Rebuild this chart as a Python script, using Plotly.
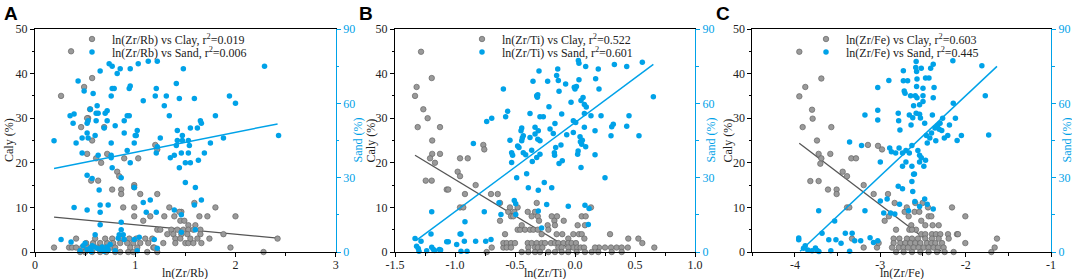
import plotly.graph_objects as go

# ---------------- DATA ----------------
# Panel A : ln(Zr/Rb)
A_clay_x = [0.36,0.26,0.57,0.49,0.55,0.53,0.52,0.46,0.69,0.57,0.52,0.72,1.20,1.22,0.61,0.66,0.89,1.03,0.82,0.84,
            0.56,0.63,0.99,0.99,0.77,0.86,0.86,1.05,1.22,0.88,0.99,1.34,1.80,0.99,1.08,1.15,1.29,1.39,1.46,1.44,
            1.59,1.64,1.72,2.00,1.45,1.49,1.53,1.60,1.22,1.25,1.36,1.42,1.48,1.53,1.58,1.65,1.38,1.46,1.52,1.65,
            1.74,1.88,2.42,0.41,0.77,0.85,0.94,1.01,1.10,1.17,1.40,1.45,1.28,1.40,1.50,1.53,1.58,1.66,0.51,0.58,
            0.65,0.72,0.78,0.85,0.92,0.98,1.05,1.13,0.19,0.34,0.37,0.41,0.47,0.53,0.62,0.69,0.76,0.80,0.95,1.02,
            1.18,1.19,1.95,2.28,0.45,0.50,0.57,0.65,0.71,0.80,0.85,0.93,0.98,1.12,1.22,0.60,0.70,1.32,1.55,1.62]
A_clay_y = [45,35,39,37,32,30,30,28,28,25,22,22,24,23,21,20,21,21,18,17,
            16,16,15,14.5,14,14,13,13,13,10,10,10,10,8,7,8,8,8,9,9,
            11,8,8,8,7,7,6,6,5,5,5,5,5,5,5,5,4,4,4,4,
            3,4,3,3,3,3,3,3,3,3,3,3,2,2,2,2,2,2,2,2,
            2,2,2,2,2,2,2,2,1,1,1,1,1,1,1,1,1,1,1,1,
            1,1,1,0,0,0,0,0,0,0,0,0,0,0,0,3,3,4,3,3]
A_sand_x = [0.19,0.26,0.36,0.35,0.39,0.38,0.39,0.41,0.43,0.47,0.47,0.49,0.52,0.52,0.52,0.52,0.53,0.53,0.55,0.57,
            0.58,0.60,0.61,0.61,0.62,0.63,0.63,0.64,0.65,0.65,0.65,0.65,0.60,0.69,0.70,0.72,0.72,0.73,0.74,0.76,
            0.76,0.76,0.76,0.77,0.77,0.79,0.77,0.80,0.82,0.85,0.86,0.86,0.89,0.89,0.92,0.92,0.94,0.94,0.95,0.95,
            0.95,0.99,1.00,1.01,1.02,1.03,0.99,1.08,1.08,1.11,1.13,1.15,1.21,1.20,1.21,1.22,1.22,1.25,1.29,1.31,
            1.34,1.35,1.39,1.41,1.41,1.42,1.42,1.44,1.44,1.46,1.47,1.47,1.48,1.50,1.50,1.53,1.53,1.54,1.55,1.55,
            1.59,1.60,1.62,1.63,1.65,1.66,1.69,1.75,1.80,1.88,1.94,2.00,2.29,2.43,1.39,1.46,1.59,1.66,0.84,0.86,
            0.88,1.60,1.21,1.46,0.45,0.48,0.50,0.52,0.55,0.57,0.59,0.62,0.65,0.67,0.70,0.72,0.75,0.80,0.83,0.89,
            0.99,1.02,1.04,1.19,1.22,0.69,0.73,0.56]
A_sand_y = [44.9,5,4,55,55.7,52,18,44,69,46,40,65,52,48,31,17,53,46,57.6,29.7,
            64,47,53,56,59,56,39,25,19,16,11,73,7,50,56,57,53,19,76,63,
            44,39,38,75,66,66,34,51,72,74,30,12,48,53,41,55,55,66,67,74,
            36,44,47,47,49,76,26,20,61,16,77,21,40,63,66,77,42.5,46,59,63,
            55,38,39,68,43,45,49,62,34,40,47,45,74,36,28,40,45,43,50,36,
            62,26,50,37,53,52,40,44,55,46,63,60,75,47,17,15,19,21,7,9,
            7,9,16,8,0.5,2.5,3.5,1,1.5,2.5,2,1.5,1,2,1,2,3,0.5,5.5,5,
            5,0.5,6,5,1.5,0.3,0.8,0.2]
A_clay_fit_x = [0.19, 2.42]
A_clay_fit_y = [7.8, 3.1]
A_sand_fit_x = [0.19, 2.42]
A_sand_fit_y = [33.7, 51.7]

# Panel B : ln(Zr/Ti)
B_clay_x = [-1.283,-1.32,-1.333,-1.194,-1.264,-1.228,-1.311,-1.125,-1.19,-1.19,-1.125,-1.208,-1.167,-0.958,-0.894,-0.764,-0.756,-0.978,-0.958,-1.244,
            -1.194,-1.069,-1.056,-0.828,-0.917,-0.70,-0.644,-0.958,-0.931,-0.625,-0.556,-0.542,-0.478,-0.506,-0.625,-0.533,-0.514,-0.394,-0.361,-0.319,
            -0.333,-0.31,-0.30,-0.228,-0.194,-0.172,-0.167,-0.15,-0.094,0.022,0.056,0.089,0.133,0.083,-0.583,-0.597,-0.478,-0.456,-0.417,-0.444,
            -0.375,-0.347,-0.31,-0.278,-0.222,-0.153,-0.106,-0.056,-0.014,0.033,0.056,0.078,0.292,0.444,0.528,0.561,0.661,0.30,0.347,0.389,
            0.25,0.20,0.167,-0.597,-0.569,-0.533,-0.50,-0.394,-0.361,-0.319,-0.278,-0.25,-0.20,-0.167,-0.139,-0.097,-0.056,-0.028,0.008,-0.014,
            0.019,0.047,0.075,-0.569,-0.533,-0.389,-0.333,-0.31,-0.272,-0.139,-0.111,-0.056,-0.694,-0.736,-0.444,-0.389,-0.333,-0.292,-0.222,-0.167,
            -0.111,-0.056,0.014,0.083,0.139,0.194,0.306,0.389,0.44]
B_clay_y = [44.9,37,35,39,32,30,28,28,25,22,22,21,20,21,21,24,23,18,17,16,
            16,14,14,15,13,13,13,10,10,11,9,10,10,9,7,8,8,9,8,11,
            9,8,7,6,8,7,6,8,7,6,8,8,10,6,4,1,5,5,5,6,
            5,5,5,4,5,4,4,3,4,4,4,3,4,3,3,2,1,1,1,1,
            1,1,1,2,2,2,2,2,2,2,2,2,2,2,2,2,2,2,2,1,
            1,1,1,1,1,1,1,1,1,1,1,1,1,0,0,0,0,0,0,0,
            0,0,0,0,0,0,0,0,1]
B_sand_x = [-1.333,-1.32,-1.306,-1.30,-1.283,-1.236,-1.20,-1.194,-1.194,-1.18,-1.17,-1.13,-1.12,-1.069,-1.056,-0.986,-0.958,-0.95,-0.95,-0.922,
            -0.917,-0.90,-0.847,-0.828,-0.756,-0.744,-0.736,-0.694,-0.70,-0.633,-0.617,-0.597,-0.578,-0.561,-0.542,-0.528,-0.528,-0.52,-0.506,-0.494,
            -0.494,-0.486,-0.478,-0.467,-0.45,-0.444,-0.444,-0.439,-0.431,-0.431,-0.411,-0.403,-0.389,-0.375,-0.375,-0.361,-0.356,-0.35,-0.333,-0.333,
            -0.319,-0.314,-0.31,-0.319,-0.31,-0.306,-0.306,-0.306,-0.30,-0.292,-0.292,-0.292,-0.278,-0.264,-0.256,-0.236,-0.228,-0.217,-0.208,-0.194,
            -0.181,-0.172,-0.17,-0.167,-0.161,-0.153,-0.144,-0.139,-0.133,-0.133,-0.117,-0.111,-0.106,-0.078,-0.069,-0.056,-0.033,-0.014,-0.014,-0.006,
            0.0,0.006,0.012,0.022,0.026,0.028,0.033,0.033,0.042,0.045,0.05,0.05,0.056,0.061,0.067,0.078,0.078,0.078,0.083,0.089,
            0.089,0.094,0.111,0.117,0.133,0.167,0.167,0.172,0.194,0.2,0.217,0.25,0.3,0.306,0.319,0.328,0.431,0.431,0.45,0.533,
            0.561,0.653]
B_sand_y = [5.4,2.3,1.4,0.3,4.3,0.5,7.3,16.2,1.9,1,0.6,1,0.8,4.1,4.1,3,7.3,7.3,0.3,4.3,
            12.2,0.3,43.8,4.3,16.2,4.3,52.7,54,5,19.9,15.1,65.8,54.6,56.8,45.1,40.1,36.1,39,20.8,15.1,
            19.5,30,42.8,42.2,48.9,50,44.9,46,46.9,40.1,39.2,31.6,25.9,55.9,46.2,41.1,36.5,68.9,50.3,47.6,
            63.1,62.5,63.5,38.1,45.5,48.9,24.9,16.5,73,54.6,44.9,39.5,9.7,54.6,28,19.2,68.9,58.6,49.6,25.9,
            47.8,40.1,39,51.9,42.2,71.2,73.9,69.2,64.9,35.7,43.2,55.7,36.8,67.8,47.3,18.5,60.4,48.2,53,66.5,
            65.8,52.3,66.8,39.5,40.8,77.3,76.2,69.5,46.5,44.5,61.1,34.1,43.5,45.1,62.4,59.5,55.9,50.3,18.9,74.9,
            42.5,58.5,11.1,17.6,55,48.9,39.2,69.9,73.9,65.8,55,30,46.9,50.5,51.6,75.7,74.9,50.8,55,46.9,
            76.6,62.7]
B_clay_fit_x = [-1.333, -0.03]
B_clay_fit_y = [21.7, 0.5]
B_sand_fit_x = [-1.325, 0.653]
B_sand_fit_y = [4.6, 75.7]

# Panel C : ln(Zr/Fe)
C_clay_x = [-3.949,-3.949,-3.879,-3.91,-3.80,-3.793,-3.691,-3.742,-3.723,-3.691,-3.703,-3.586,-3.574,-3.027,-3.145,-2.98,-3.34,-3.285,-3.82,-3.723,
            -3.613,-3.512,-3.512,-3.441,-3.39,-3.195,-3.078,-2.91,-3.39,-3.363,-2.832,-2.949,-2.90,-2.816,-2.844,-3.195,-3.332,-3.039,-3.02,-2.715,
            -2.69,-2.668,-2.598,-2.59,-2.543,-2.504,-2.441,-2.16,-2.004,-2.637,-2.582,-2.52,-2.473,-2.434,-2.402,-2.387,-2.316,-2.66,-2.629,
            -2.52,-2.473,-2.395,-2.348,-2.297,-2.207,-2.102,-2.09,
            -2.777,-2.688,-2.629,-2.559,-2.473,-2.395,-2.316,-2.199,
            -2.844,-2.766,-2.707,-2.648,-2.59,-2.531,-2.453,-2.402,-2.355,-2.277,-2.004,
            -2.863,-2.785,-2.727,-2.676,-2.609,-2.551,-2.492,-2.434,-2.375,-2.324,-2.258,
            -2.816,-2.727,-2.629,-2.531,-2.434,-2.336,-2.246,-2.141,-1.699,-1.66,-1.633]
C_clay_y = [44.9,34.9,37,28,31.9,29.9,38.9,25,22,21,19.8,22,28,23.8,24,23,21,21,15.9,15.9,
            14,14,13,18,17,15,13,13,10,10,11,7,8,5,3,1,3,1,2,9,
            10,8,9,11,9,11,10,10,8,6,5,7,6,8,8,6,6,5,5,
            4,4,4,4,4,4,4,4,
            3,3,3,3,3,3,3,3,
            2,2,2,2,2,2,2,2,2,2,2,
            1,1,1,1,1,1,1,1,1,1,1,
            0,0,0,0,0,0,0,0,0,1,3]
C_sand_x = [-3.956,-3.956,-3.90,-3.88,-3.85,-3.80,-3.76,-3.74,-3.72,-3.722,-3.683,-3.604,-3.58,-3.535,-3.52,-3.46,-3.41,-3.36,-3.33,-3.30,
            -3.23,-3.18,-3.12,-3.08,-3.03,-3.00,-2.96,-2.92,-2.88,-2.83,-2.79,-2.775,-2.74,-2.67,-2.63,-2.62,-2.60,-2.595,-2.54,-2.48,
            -2.45,-2.38,-2.35,-2.74,-2.70,-2.66,-2.63,-2.56,-2.54,-2.52,-2.47,-2.74,-2.70,-2.63,-2.61,-2.54,-2.49,-3.00,-2.89,-2.87,
            -2.82,-2.78,-3.36,-3.22,-2.45,-2.42,-2.40,-2.36,-2.33,-2.30,-2.28,-2.25,-2.21,-2.05,-2.10,-2.12,-2.27,-2.31,-2.48,-2.46,
            -3.18,-3.03,-3.03,-3.03,-2.90,-2.79,-2.785,-2.77,-2.73,-2.73,-2.68,-2.72,-2.71,-2.645,-2.66,-2.64,-2.62,-2.61,-2.59,-2.58,
            -2.58,-2.585,-2.575,-2.57,-2.57,-2.575,-2.54,-2.54,-2.53,-2.52,-2.50,-2.50,-2.50,-2.47,-2.43,-2.41,-2.38,-2.37,-2.38,-2.39,
            -2.15,-2.145,-2.19,-1.81,-1.77,-1.73]
C_sand_y = [5.7,4.9,1.5,2.5,0.8,0.5,1.6,0.6,0.2,16.6,7.6,4.9,0.5,12.5,4.9,3.5,7.6,0.3,7.6,4.5,
            4.5,16.6,5.8,3.8,4.5,20.6,15.7,21.4,15.7,15.3,26.5,19.3,25.5,16.6,28.5,24.4,31.5,20.4,18.4,21.4,
            19.3,17.4,44.9,40,41,40,43,41,39,38,37,34.6,36.3,34.6,31.4,36.3,34.6,36.3,42,40.5,
            40,42,44.4,43,44,46,48,50,51,52,49,46,47,47,45,54,54,49.5,52,47,
            55.3,66.4,57.2,53.3,69.2,56,53,49.2,73.1,69.1,69.1,65,64.1,63.1,55.3,51.3,54.2,59,63.1,56,
            76.9,74.5,72.8,62.3,69.8,66.8,59.4,55.6,54.1,74.2,66.1,63.1,60.7,70.2,70.2,74.2,75.8,66.4,62.3,55.3,
            77.2,60,51.3,75.2,63.1,47.2]
C_clay_fit_x = [-3.95, -2.285]
C_clay_fit_y = [24.4, 0.15]
C_sand_fit_x = [-3.94, -1.633]
C_sand_fit_y = [0.3, 74.9]

panel_letters = ["A", "B", "C"]
x_titles = ["ln(Zr/Rb)", "ln(Zr/Ti)", "ln(Zr/Fe)"]
y_left_title = "Caly (%)"
y_right_title = "Sand (%)"
x_ranges = [[0, 3], [-1.5, 1.0], [-4.5, -1]]
x_dticks = [1, 0.5, 1]
x_tickvals = [[0, 1, 2, 3], [-1.5, -1.0, -0.5, 0.0, 0.5, 1.0], [-4, -3, -2, -1]]
x_ticktext = [["0", "1", "2", "3"], ["-1.5", "-1.0", "-0.5", "0.0", "0.5", "1.0"], ["-4", "-3", "-2", "-1"]]
ratios = ["ln(Zr/Rb)", "ln(Zr/Ti)", "ln(Zr/Fe)"]
r2_clay = ["0.019", "0.522", "0.603"]
r2_sand = ["0.006", "0.601", "0.445"]

# ---------------- STYLE ----------------
W, H = 1072, 279
ML, MR, MT, MB = 35, 21, 29, 27
PW, PH = W - ML - MR, H - MT - MB
GRAY_FILL = "#9a9a9a"
GRAY_EDGE = "#666666"
BLUE = "#00a2e8"
SERIF = "Liberation Serif, Times New Roman, serif"

def px_x(px):
    return (px - ML) / PW

def px_y(py):
    return (H - MB - py) / PH

plot_px = [(35, 335.7), (395, 695), (752.3, 1051)]
x_domains = [[px_x(a), px_x(b)] for a, b in plot_px]
legend_text_x = [112, 502, 846]
panel_left = [0, 355, 712]
left_title_px = [8.5, 370, 727]
right_title_px = [357, 710, 1066]

panels = [
    (A_clay_x, A_clay_y, A_sand_x, A_sand_y, A_clay_fit_x, A_clay_fit_y, A_sand_fit_x, A_sand_fit_y),
    (B_clay_x, B_clay_y, B_sand_x, B_sand_y, B_clay_fit_x, B_clay_fit_y, B_sand_fit_x, B_sand_fit_y),
    (C_clay_x, C_clay_y, C_sand_x, C_sand_y, C_clay_fit_x, C_clay_fit_y, C_sand_fit_x, C_sand_fit_y),
]

fig = go.Figure()
layout = dict(
    width=W, height=H, margin=dict(l=ML, r=MR, t=MT, b=MB, autoexpand=False),
    plot_bgcolor="white", paper_bgcolor="white",
    font=dict(family=SERIF, size=12, color="#222"),
    annotations=[],
)

def ann(text, x, y, color="#222", size=12, angle=0, family=SERIF):
    return dict(text=text, xref="paper", yref="paper", x=x, y=y, xanchor="center", yanchor="middle",
                showarrow=False, textangle=angle, font=dict(family=family, size=size, color=color))

for i, (cx, cy, sx, sy, cfx, cfy, sfx, sfy) in enumerate(panels):
    xn = "" if i == 0 else str(i + 1)
    yc = str(2 * i + 1) if i > 0 else ""
    ys = str(2 * i + 2)
    xref = "x" + xn
    ycref = "y" + yc
    ysref = "y" + ys
    leg_c = "legend" if i == 0 else "legend" + str(2 * i + 1)
    leg_s = "legend" + str(2 * i + 2)

    fig.add_trace(go.Scatter(x=cfx, y=cfy, mode="lines", xaxis=xref, yaxis=ycref,
                             line=dict(color="#555555", width=1.3), showlegend=False))
    fig.add_trace(go.Scatter(x=sfx, y=sfy, mode="lines", xaxis=xref, yaxis=ysref,
                             line=dict(color=BLUE, width=1.5), showlegend=False))
    fig.add_trace(go.Scatter(x=cx, y=cy, mode="markers", xaxis=xref, yaxis=ycref,
                             name=f"{ratios[i]} vs Clay, r<sup>2</sup>=" + r2_clay[i],
                             legend=leg_c, cliponaxis=False,
                             marker=dict(size=5.5, color=GRAY_FILL, line=dict(color=GRAY_EDGE, width=0.7))))
    fig.add_trace(go.Scatter(x=sx, y=sy, mode="markers", xaxis=xref, yaxis=ysref,
                             name=f"{ratios[i]} vs Sand, r<sup>2</sup>=" + r2_sand[i],
                             legend=leg_s, cliponaxis=False,
                             marker=dict(size=5.5, color=BLUE, line=dict(width=0))))

    layout["xaxis" + xn] = dict(
        domain=x_domains[i], range=x_ranges[i], anchor=ycref, automargin=False,
        tickvals=x_tickvals[i], ticktext=x_ticktext[i],
        ticks="outside", ticklen=4, tickwidth=1, tickcolor="black", ticklabelstandoff=-2,
        minor=dict(ticks="outside", ticklen=2.5, dtick=x_dticks[i] / 2, tickcolor="black"),
        showline=True, linecolor="black", linewidth=1, mirror=True,
        showgrid=False, zeroline=False,
        tickfont=dict(family=SERIF, size=12, color="#222"),
    )
    layout["yaxis" + yc] = dict(
        domain=[0, 1], range=[0, 50], anchor=xref, dtick=10, automargin=False,
        ticks="outside", ticklen=4, tickwidth=1, tickcolor="black",
        minor=dict(ticks="outside", ticklen=2.5, dtick=5, tickcolor="black"),
        showline=True, linecolor="black", linewidth=1,
        showgrid=False, zeroline=False,
        tickfont=dict(family=SERIF, size=12, color="#222"),
    )
    layout["yaxis" + ys] = dict(
        domain=[0, 1], range=[0, 90], anchor=xref, overlaying=ycref, side="right", dtick=30,
        automargin=False,
        ticks="outside", ticklen=4, tickwidth=1, tickcolor=BLUE,
        minor=dict(ticks="outside", ticklen=2.5, dtick=15, tickcolor=BLUE),
        showline=True, linecolor=BLUE, linewidth=1.2,
        showgrid=False, zeroline=False,
        tickfont=dict(family=SERIF, size=12, color=BLUE),
    )
    legend_common = dict(x=px_x(legend_text_x[i] - 40), xanchor="left", yanchor="middle",
                         bgcolor="rgba(0,0,0,0)", font=dict(family=SERIF, size=12, color="#222"),
                         itemwidth=30)
    layout[leg_c] = dict(legend_common, y=px_y(39))
    layout[leg_s] = dict(legend_common, y=px_y(52))

    a, b = plot_px[i]
    layout["annotations"] += [
        dict(text="<b>" + panel_letters[i] + "</b>", xref="paper", yref="paper",
             x=px_x(2 + panel_left[i]), y=px_y(1), xanchor="left", yanchor="top", showarrow=False,
             font=dict(family="Liberation Sans, Arial, sans-serif", size=19, color="black")),
        ann(x_titles[i], px_x((a + b) / 2), px_y(272.5)),
        ann(y_left_title, px_x(left_title_px[i]), px_y(140.5), angle=-90),
        ann(y_right_title, px_x(right_title_px[i]), px_y(140.5), color=BLUE, angle=-90),
    ]

fig.update_layout(**layout)
fig.write_html("out.html", config={"displayModeBar": False},
               post_script="document.body.style.margin='0';document.body.style.overflow='hidden';")
